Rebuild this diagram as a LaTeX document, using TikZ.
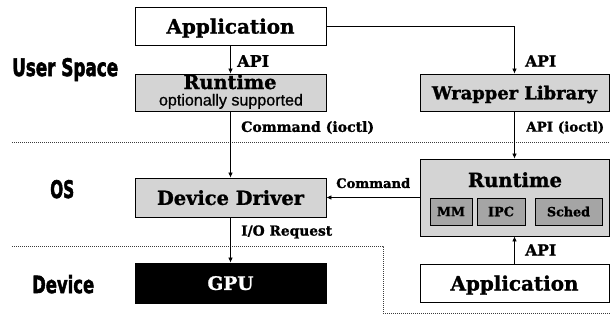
\documentclass[tikz,border=0pt]{standalone}
\usepackage{fontspec}
\usepackage{graphicx}
\setmainfont{DejaVu Serif}[BoldFeatures={FakeBold=1.2}]
\newfontfamily\lblsans{DejaVu Sans}[BoldFeatures={FakeBold=2.5}]
\newfontfamily\arialf{Liberation Sans}[FakeBold=0.6]
\usetikzlibrary{arrows.meta}
\definecolor{grey1}{RGB}{212,212,212}
\definecolor{grey2}{RGB}{165,165,165}
\definecolor{dotc}{RGB}{60,60,60}
\newcommand{\fw}[2]{\resizebox{#1pt}{!}{\bfseries #2}}
\newcommand{\fwh}[3]{\resizebox{#1pt}{#2pt}{\lblsans\bfseries #3}}
\begin{document}
\begin{tikzpicture}[x=1pt,y=-1pt,
  box/.style={draw, line width=0.8pt, minimum width=191pt, minimum height=38pt, inner sep=0pt, text depth=0pt},
  gbox/.style={box, fill=grey1},
  sbox/.style={draw, line width=0.7pt, fill=grey2, minimum height=27pt, inner sep=0pt, text depth=0pt},
  lab/.style={inner sep=0pt, anchor=west, text depth=0pt},
  side/.style={inner sep=0pt, anchor=base west},
  arr/.style={-{Latex[length=5pt,width=4.5pt]}, line width=0.7pt},
  sep/.style={dash pattern=on 1pt off 1pt, line width=0.6pt, draw=dotc}]
\useasboundingbox (0,0) rectangle (610,322);

% separators
\coordinate (s1a) at (12,142);
\coordinate (s1b) at (610,142);
\coordinate (s2a) at (12,246);
\coordinate (s2b) at (383,246);
\coordinate (s2c) at (383,313);
\coordinate (s2d) at (610,313);
\draw[sep] (s1a) -- (s1b);
\draw[sep] (s2a) -- (s2b) -- (s2c) -- (s2d);

% left labels
\node[side] (us) at (12,76) {\fwh{106}{18}{User Space}};
\node[side] (os) at (50,198) {\fwh{24}{18}{OS}};
\node[side] (dev) at (32,293) {\fwh{62}{18}{Device}};

% left column
\node[box] (app1) at (230.5,26) {\fw{128}{Application}};
\node[gbox, minimum height=37pt] (rt1) at (230.5,92.5) {};
\node[inner sep=0pt, anchor=base] (rt1t) at (230,89) {\fw{93}{Runtime}};
\node[inner sep=0pt, anchor=base] (rt1s) at (231,105.5) {\resizebox{144pt}{!}{\arialf optionally supported}};
\node[gbox, minimum height=39pt] (dd) at (230.5,197.5) {\fw{147}{Device Driver}};
\node[box, fill=black, text=white, minimum height=40pt] (gpu) at (230.5,283) {\fw{46}{GPU}};

% right column
\node[gbox, minimum width=189pt, minimum height=37pt] (wrap) at (514.5,92.5) {\fw{165}{Wrapper Library}};
\node[gbox, minimum width=189pt, minimum height=77pt] (rt2) at (514.5,197.5) {};
\node[inner sep=0pt, anchor=base] (rt2t) at (515,187) {\fw{94}{Runtime}};
\node[sbox, minimum width=42pt] (mm) at (451,211.5) {\fw{28}{MM}};
\node[sbox, minimum width=48pt] (ipc) at (501,211.5) {\fw{26}{IPC}};
\node[sbox, minimum width=67pt] (sched) at (568.5,211.5) {\fw{43}{Sched}};
\node[box, minimum width=189pt] (app2) at (514.5,283) {\fw{128}{Application}};

% connectors
\draw[arr] (app1) -- (rt1);
\draw[arr] (app1.east) -| (wrap.north);
\draw[arr] (rt1) -- (dd);
\draw[arr] (wrap) -- (rt2);
\draw[arr] (rt2.west) -- (dd.east);
\draw[arr] (dd) -- (gpu);
\draw[arr] (app2) -- (rt2);

% connector labels
\node[lab] (l1) at (237,61) {\fw{32}{API}};
\node[lab] (l2) at (525,61) {\fw{31}{API}};
\node[lab] (l3) at (241,126.5) {\fw{133}{Command (ioctl)}};
\node[lab] (l4) at (526,126.5) {\fw{78}{API (ioctl)}};
\node[lab] (l5) at (336,183) {\fw{74}{Command}};
\node[lab] (l6) at (241,230.5) {\fw{91}{I/O Request}};
\node[lab] (l7) at (525,250) {\fw{31}{API}};
\end{tikzpicture}
\end{document}
